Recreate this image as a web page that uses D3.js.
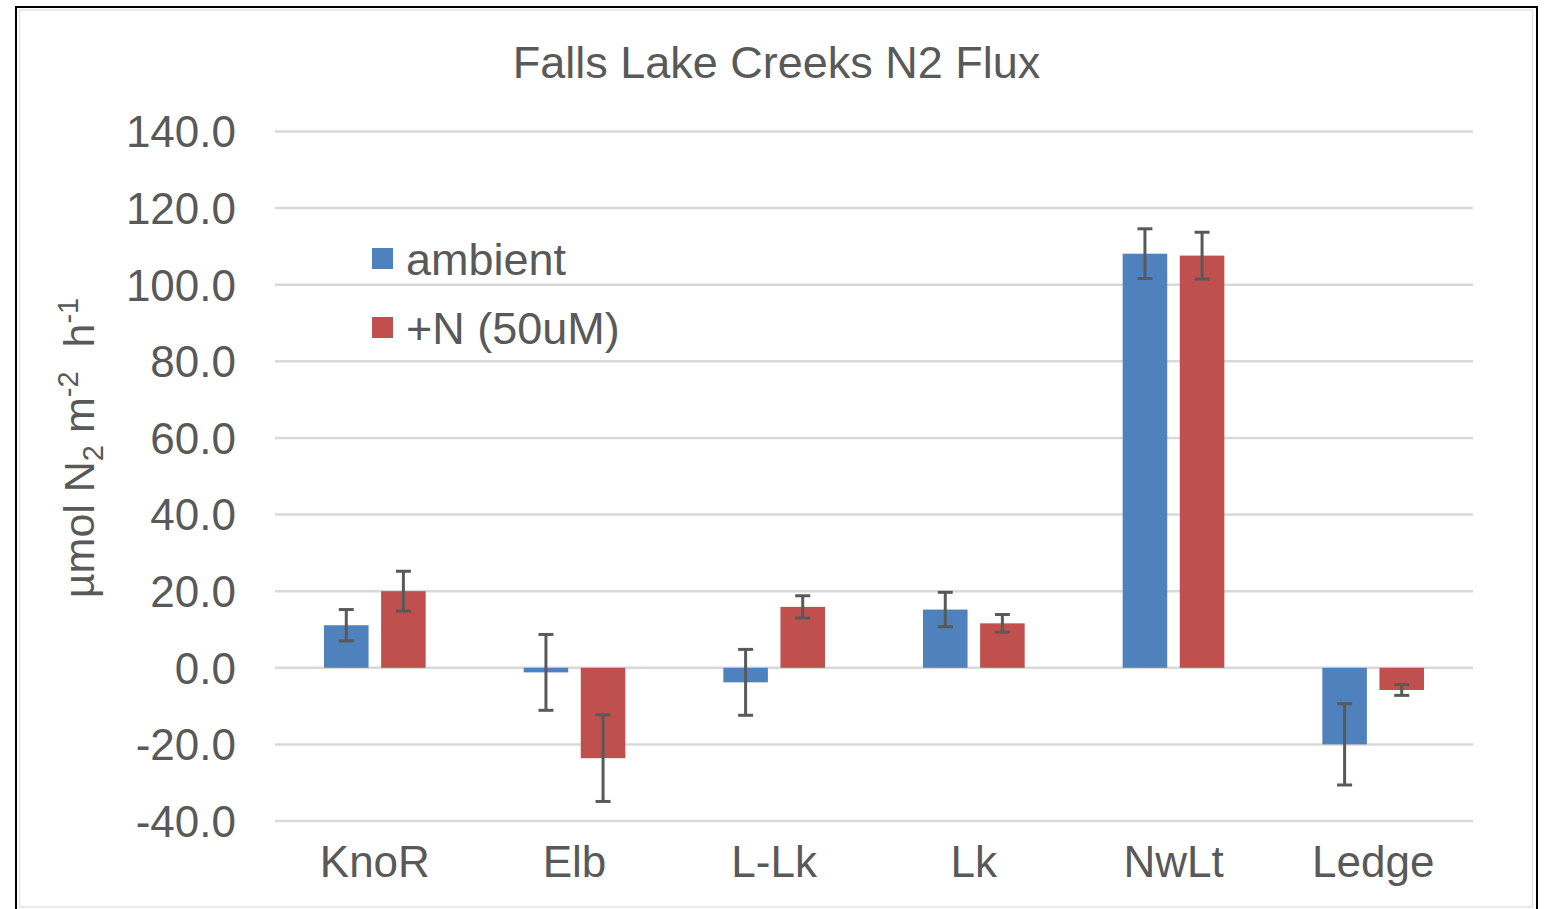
<!DOCTYPE html>
<html>
<head>
<meta charset="utf-8">
<script src="https://cdn.jsdelivr.net/npm/d3@7"></script>
<style>
  html, body { margin: 0; padding: 0; background: #ffffff; }
  svg { display: block; font-family: "Liberation Sans", Arial, sans-serif; }
</style>
</head>
<body>
<svg id="chart" width="1550" height="909"></svg>
<script>
// Sites along the Falls Lake creeks
const categories = ["KnoR", "Elb", "L-Lk", "Lk", "NwLt", "Ledge"];
const seriesNames = ["ambient", "+N (50uM)"];

// Mean N2 flux (µmol N2 m-2 h-1) and error for each treatment
const ambientValues = [11.1, -1.2, -3.8, 15.2, 108.1, -20.0];
const ambientErrors = [4.1, 9.9, 8.6, 4.5, 6.5, 10.6];
const nitrogenValues = [20.0, -23.6, 15.9, 11.6, 107.6, -5.8];
const nitrogenErrors = [5.2, 11.3, 2.9, 2.3, 6.1, 1.4];

const yTicks = [-40, -20, 0, 20, 40, 60, 80, 100, 120, 140];
const seriesColors = ["#4F81BD", "#C0504D"];

const svg = d3.select("#chart");
const textColor = "#595959";

// Chart frame
svg.append("rect")
  .attr("x", 16).attr("y", 7).attr("width", 1521).attr("height", 920)
  .attr("fill", "#ffffff").attr("stroke", "#000000").attr("stroke-width", 2);
svg.append("rect")
  .attr("x", 19.5).attr("y", 10).attr("width", 1513).attr("height", 897)
  .attr("fill", "none").attr("stroke", "#e3e3e3").attr("stroke-width", 1.5);

const x0 = d3.scaleBand().domain(categories).range([275, 1473]).paddingInner(0).paddingOuter(0);
const bw = x0.bandwidth();
const x1 = d3.scaleBand().domain(seriesNames).range([49, bw - 49]).paddingInner(0.22);
const y = d3.scaleLinear().domain([-40, 140]).range([821, 131.5]);

// Gridlines
svg.append("g").selectAll("line")
  .data(yTicks).join("line")
  .attr("x1", 275).attr("x2", 1473)
  .attr("y1", d => y(d)).attr("y2", d => y(d))
  .attr("stroke", "#d9d9d9").attr("stroke-width", 2.5);

// Y axis tick labels (plain hyphen for negatives)
const fmt = d3.format(".1f");
const yAxis = d3.axisLeft(y).tickValues(yTicks)
  .tickFormat(d => fmt(d).replace("\u2212", "-"))
  .tickSize(0).tickPadding(0);
const yg = svg.append("g").attr("transform", "translate(236,0)").call(yAxis);
yg.select(".domain").remove();
yg.selectAll("text")
  .attr("fill", textColor).attr("font-size", 44)
  .attr("font-family", "'Liberation Sans', Arial, sans-serif")
  .attr("dy", "0.35em");

// X axis category labels
const xAxis = d3.axisBottom(x0).tickSize(0).tickPadding(0);
const xg = svg.append("g").attr("transform", "translate(0,877)").call(xAxis);
xg.select(".domain").remove();
xg.selectAll("text")
  .attr("fill", textColor).attr("font-size", 44)
  .attr("font-family", "'Liberation Sans', Arial, sans-serif")
  .attr("dy", 0).attr("y", 0);

// Bars and error bars
const rows = categories.map((c, i) => ({
  cat: c,
  items: [
    { s: seriesNames[0], v: ambientValues[i], e: ambientErrors[i], color: seriesColors[0] },
    { s: seriesNames[1], v: nitrogenValues[i], e: nitrogenErrors[i], color: seriesColors[1] }
  ]
}));

const groups = svg.append("g").selectAll("g")
  .data(rows).join("g")
  .attr("transform", d => `translate(${x0(d.cat)},0)`);

groups.selectAll("rect")
  .data(d => d.items).join("rect")
  .attr("x", d => x1(d.s))
  .attr("width", x1.bandwidth())
  .attr("y", d => y(Math.max(0, d.v)))
  .attr("height", d => Math.abs(y(d.v) - y(0)))
  .attr("fill", d => d.color);

const errColor = "#595959";
const capHalf = 7.5;
const errWidth = 3;
const eb = groups.selectAll("g.err")
  .data(d => d.items).join("g").attr("class", "err");
eb.append("line")
  .attr("x1", d => x1(d.s) + x1.bandwidth() / 2)
  .attr("x2", d => x1(d.s) + x1.bandwidth() / 2)
  .attr("y1", d => y(d.v + d.e)).attr("y2", d => y(d.v - d.e))
  .attr("stroke", errColor).attr("stroke-width", errWidth);
eb.append("line")
  .attr("x1", d => x1(d.s) + x1.bandwidth() / 2 - capHalf)
  .attr("x2", d => x1(d.s) + x1.bandwidth() / 2 + capHalf)
  .attr("y1", d => y(d.v + d.e)).attr("y2", d => y(d.v + d.e))
  .attr("stroke", errColor).attr("stroke-width", errWidth);
eb.append("line")
  .attr("x1", d => x1(d.s) + x1.bandwidth() / 2 - capHalf)
  .attr("x2", d => x1(d.s) + x1.bandwidth() / 2 + capHalf)
  .attr("y1", d => y(d.v - d.e)).attr("y2", d => y(d.v - d.e))
  .attr("stroke", errColor).attr("stroke-width", errWidth);

// Title
svg.append("text")
  .attr("x", 776.5).attr("y", 78)
  .attr("text-anchor", "middle")
  .attr("font-size", 45).attr("fill", textColor)
  .text("Falls Lake Creeks N2 Flux");

// Y axis title with sub/superscripts
const yt = svg.append("text")
  .attr("transform", "translate(94,448) rotate(-90)")
  .attr("text-anchor", "middle")
  .attr("font-size", 43).attr("fill", textColor)
  .style("white-space", "pre");
yt.append("tspan").text("µmol N");
yt.append("tspan").attr("font-size", 29).attr("dy", 9).text("2");
yt.append("tspan").attr("dy", -9).text(" m");
yt.append("tspan").attr("font-size", 29).attr("dy", -16).text("-2");
yt.append("tspan").attr("dy", 16).text("  h");
yt.append("tspan").attr("font-size", 29).attr("dy", -16).text("-1");

// Legend
const legend = svg.append("g").selectAll("g")
  .data(seriesNames).join("g")
  .attr("transform", (d, i) => `translate(372,${248 + i * 69})`);
legend.append("rect")
  .attr("width", 21).attr("height", 21)
  .attr("fill", (d, i) => seriesColors[i]);
legend.append("text")
  .attr("x", 34).attr("y", 27)
  .attr("font-size", 45).attr("fill", textColor)
  .text(d => d);
</script>
</body>
</html>
